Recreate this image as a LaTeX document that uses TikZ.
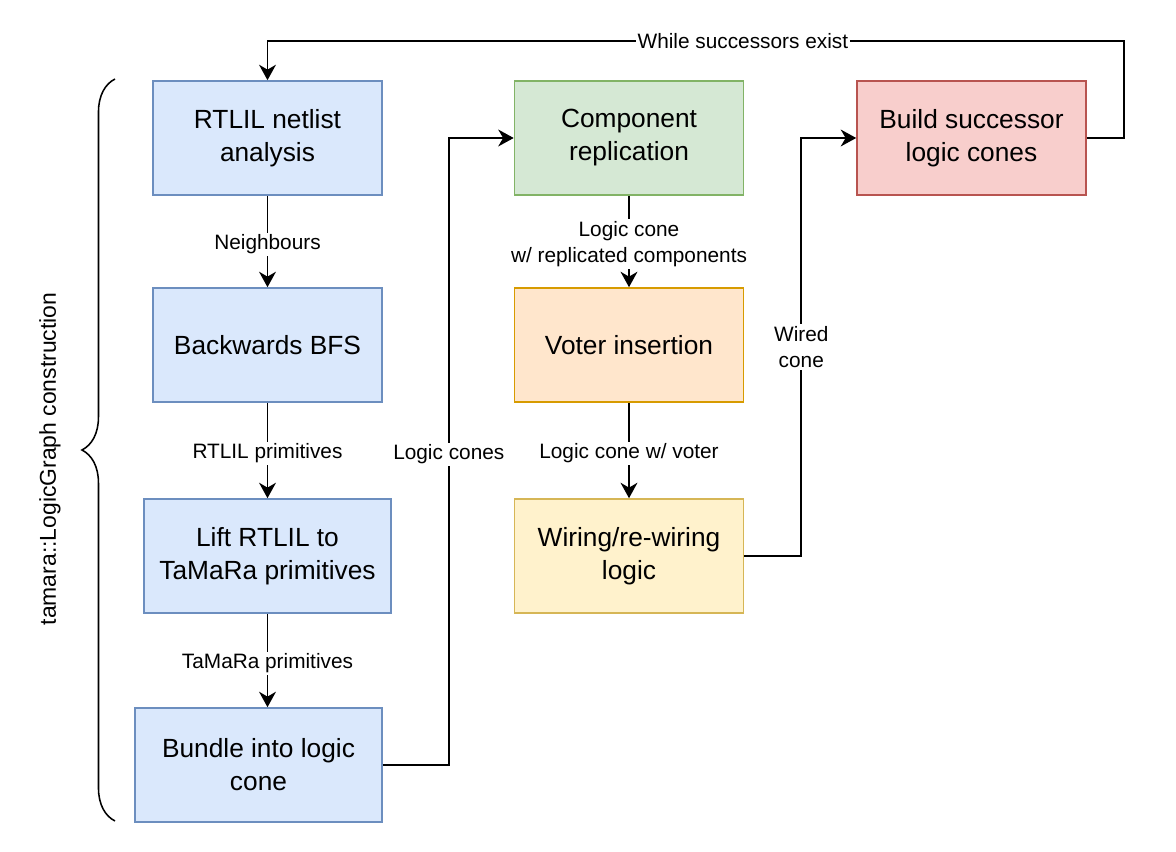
\documentclass[tikz,border=0pt]{standalone}
\usepackage{fontspec}
\setmainfont{Liberation Sans}
\usetikzlibrary{arrows.meta,decorations.pathreplacing}
\definecolor{blueFill}{HTML}{DAE8FC}
\definecolor{blueLine}{HTML}{6C8EBF}
\definecolor{greenFill}{HTML}{D5E8D4}
\definecolor{greenLine}{HTML}{82B366}
\definecolor{orangeFill}{HTML}{FFE6CC}
\definecolor{orangeLine}{HTML}{D79B00}
\definecolor{yellowFill}{HTML}{FFF2CC}
\definecolor{yellowLine}{HTML}{D6B656}
\definecolor{redFill}{HTML}{F8CECC}
\definecolor{redLine}{HTML}{B85450}
\begin{document}
\begin{tikzpicture}[x=0.025cm,y=-0.025cm,
 box/.style={draw,line width=1.1pt,minimum width=5.725cm,minimum height=2.85cm,inner sep=0pt,align=center,font=\fontsize{18.7}{23.4}\selectfont},
 widebox/.style={box,minimum width=6.175cm},
 bluebox/.style={fill=blueFill,draw=blueLine},
 flow/.style={line width=1.3pt,-{Stealth[length=11pt,width=12pt,inset=3.5pt]}},
 lbl/.style={fill=white,inner sep=1.5pt,align=center,font=\fontsize{14.8}{18.5}\selectfont},
 downlbl/.style={lbl,yshift=-2pt}]
 \useasboundingbox (0,0) rectangle (1176,852);
 % left column
 \node (netlist) at (267.5,138) [box,bluebox] {RTLIL netlist\\analysis};
 \node (bfs) at (267.5,345) [box,bluebox] {Backwards BFS};
 \node (lift) at (267.5,556) [widebox,bluebox] {Lift RTLIL to\\TaMaRa primitives};
 \node (bundle) at (258.5,765) [widebox,bluebox] {Bundle into logic\\cone};
 % middle column
 \node (replicate) at (629,138) [box,fill=greenFill,draw=greenLine] {Component\\replication};
 \node (voter) at (629,345) [box,fill=orangeFill,draw=orangeLine] {Voter insertion};
 \node (wiring) at (629,556) [box,fill=yellowFill,draw=yellowLine] {Wiring/re-wiring\\logic};
 % right column
 \node (successor) at (971.5,138) [box,fill=redFill,draw=redLine] {Build successor\\logic cones};
 % brace and its label
 \coordinate (brace top) at (115,79);
 \coordinate (brace bottom) at (115,821);
 \draw[line width=1.1pt,decorate,decoration={brace,amplitude=23.5pt}] (brace bottom) -- (brace top);
 \node (construction) at (50,459) [rotate=90,font=\fontsize{16.3}{20}\selectfont] {tamara::LogicGraph construction};
 % connectors
 \draw[flow] (netlist) -- node[downlbl] {Neighbours} (bfs);
 \draw[flow] (bfs) -- node[downlbl] {RTLIL primitives} (lift);
 \draw[flow] (lift.south -| netlist) -- node[downlbl] {TaMaRa primitives} (bundle.north -| netlist);
 \draw[flow] (bundle.east) -- ++(66,0) |- node[downlbl,pos=0.25] {Logic cones} (replicate.west);
 \draw[flow] (replicate) -- node[downlbl] {Logic cone\\w/ replicated components} (voter);
 \draw[flow] (voter) -- node[downlbl] {Logic cone w/ voter} (wiring);
 \draw[flow] (wiring.east) -- ++(57,0) |- node[lbl,pos=0.25] {Wired\\cone} (successor.west);
 \coordinate (loop) at (1124,41);
 \draw[flow] (successor.east) -| (loop) -- node[lbl,pos=0.445,inner ysep=0.5pt] {While successors exist} (loop -| netlist) -- (netlist);
\end{tikzpicture}
\end{document}
